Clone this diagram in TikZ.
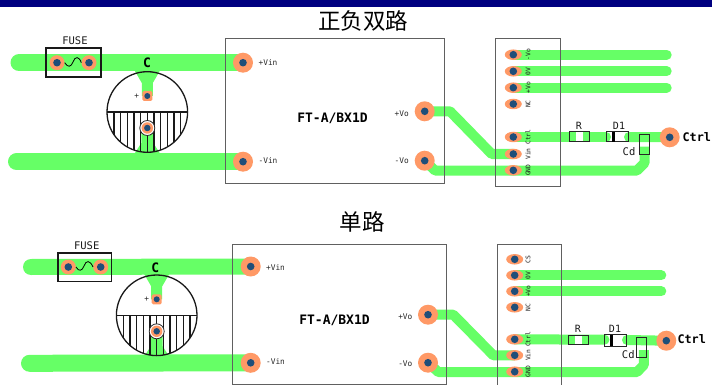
\documentclass[tikz,border=0pt]{standalone}
\usepackage{fontspec}
\setmonofont{DejaVu Sans Mono}
\newfontfamily\cjkfont{Noto Sans CJK SC}
\usetikzlibrary{backgrounds}
\usetikzlibrary{shapes.geometric}
\definecolor{navybar}{HTML}{000080}
\definecolor{tracegreen}{HTML}{66FF66}
\definecolor{padorange}{HTML}{FF9966}
\definecolor{holeblue}{HTML}{1F4E79}
\definecolor{boxgray}{HTML}{606060}
\tikzset{
  wide/.style={draw=tracegreen,line width=17pt,line cap=round},
  thin/.style={draw=tracegreen,line width=10pt,line cap=round,line join=round},
  bigpad/.style={circle,fill=padorange,inner sep=0pt,minimum size=20pt},
  midpad/.style={circle,fill=padorange,inner sep=0pt,minimum size=15pt},
  ovalpad/.style={ellipse,fill=padorange,inner sep=0pt,minimum width=17pt,minimum height=10.5pt},
  sqpad/.style={rectangle,rounded corners=1.5pt,fill=padorange,inner sep=0pt,minimum size=10pt},
  ringpad/.style={circle,fill=padorange,inner sep=0pt,minimum size=11.5pt},
  hole/.style={circle,fill=holeblue,inner sep=0pt,minimum size=7.6pt},
  part/.style={draw=black!85,line width=.9pt},
  heavy/.style={draw=black!90,line width=1.3pt},
  block/.style={draw=boxgray,line width=.8pt},
  lbl/.style={font=\ttfamily\fontsize{10.5pt}{12pt}\selectfont,inner sep=0pt,text=black!90},
  pinlbl/.style={font=\ttfamily\fontsize{7.8pt}{9pt}\selectfont,inner sep=0pt,text=black!85},
  conlbl/.style={font=\ttfamily\fontsize{6.3pt}{7pt}\selectfont,inner sep=0pt,rotate=90,text=black!90},
  bigname/.style={font=\ttfamily\bfseries\fontsize{13pt}{14pt}\selectfont,inner sep=0pt},
  ctrlname/.style={font=\ttfamily\bfseries\fontsize{11.8pt}{14pt}\selectfont,inner sep=0pt},
  title/.style={font=\cjkfont\fontsize{22.5pt}{24pt}\selectfont,inner sep=0pt},
}
% pad with its hole: name, style, position
\newcommand{\padat}[3]{\node[#2] (#1) at (#3) {}; \node[hole] (#1h) at (#1) {};}
% capacitor body around the current origin
\newcommand{\capbody}{
  \fill[tracegreen] (-13,-42) -- (13,-42) -- (5.5,-29) -- (5.5,-16) -- (-5.5,-16) -- (-5.5,-29) -- cycle;
  \fill[tracegreen] (-6,16) -- (6,16) -- (6,31) -- (13,42) -- (-13,42) -- (-6,31) -- cycle;
  \draw[heavy] (0,0) circle (40.3);
  \draw[heavy] (-40.3,0) -- (40.3,0);
  \foreach \i in {-5,...,5}
    \draw[heavy] ({\i*6.67},0) -- ({\i*6.67},{sqrt(40.3*40.3-\i*6.67*\i*6.67)});
}
\begin{document}
\begin{tikzpicture}[x=1pt,y=-1pt]
  \useasboundingbox (0,0) rectangle (712,385);
  \fill[navybar] (0,0) rectangle (712,7);
  \node[title] (titletop) at (363,21) {正负双路};
  \node[title] (titlelow) at (362,222) {单路};
  % upper circuit
  \coordinate (ainfree) at (19,62.7);
  \coordinate (agndfree) at (16.5,161.7);
  \padat{afa}{midpad}{57,62.7}
  \padat{afb}{midpad}{89,62.7}
  \padat{avinp}{bigpad}{243,62.7}
  \padat{avinm}{bigpad}{243,161.7}
  \padat{avop}{bigpad}{424.7,111.3}
  \padat{avom}{bigpad}{424.7,160.7}
  \padat{actrlout}{bigpad}{669.7,137.3}
  \padat{apa}{ovalpad}{513.3,54.7}
  \padat{apb}{ovalpad}{513.3,71.3}
  \padat{apc}{ovalpad}{513.3,87.7}
  \padat{apd}{ovalpad}{513.3,104}
  \padat{ape}{ovalpad}{513.3,137}
  \padat{apf}{ovalpad}{513.3,154}
  \padat{apg}{ovalpad}{513.3,170.3}
  \begin{scope}[on background layer]
    \draw[wide] (ainfree) -- (avinp.center);
    \draw[wide] (agndfree) -- (avinm.center);
    \draw[thin] (apa.center) -- (666.7,54.7);
    \draw[thin] (apb.center) -- (666.7,71.3);
    \draw[thin] (apc.center) -- (666.7,87.7);
    \draw[thin,line cap=butt] (avop.center) -- (450,111.3) -- (491.7,154) -- (apf.center);
    \draw[thin,line cap=butt] (avom.center) -- (435,170.5) -- (637,170.5) -- (644.5,163) -- (644.5,146.7);
    \draw[thin] (ape.center) -- (606,137);
    \draw[thin] (629,137) -- (actrlout.center);
  \end{scope}
  % fuse
  \draw[heavy,line width=1.6pt] (45.7,48) rectangle (100.7,77);
  \draw[line width=.8pt] (afa.east) .. controls (68,68) and (71,67) .. (73,62) .. controls (75,56) and (79,56) .. (afb.west);
  \node[lbl] (afuse) at (75,41) {FUSE};
  % capacitor
  \begin{scope}[shift={(147.3,112)}]
    \capbody
    \node[sqpad] (acp) at (0,-16) {};
    \node[hole,minimum size=6pt] (acph) at (acp) {};
    \node[pinlbl] (aplus) at (-10.5,-16) {+};
    \node[circle,draw=black!85,fill=white,line width=.8pt,minimum size=15pt,inner sep=0pt] (acring) at (0,16) {};
    \node[ringpad] (acm) at (acring) {};
    \node[hole,minimum size=6.5pt] (acmh) at (acm) {};
  \end{scope}
  \node[bigname] (acname) at (147,62.5) {C};
  % module
  \draw[block] (225,38.5) rectangle (444.3,183.7);
  \node[pinlbl] (alvinp) at (268,63) {+Vin};
  \node[pinlbl] (alvinm) at (268,161) {-Vin};
  \node[pinlbl] (alvop) at (401.7,114) {+Vo};
  \node[pinlbl] (alvom) at (401.7,161) {-Vo};
  \node[bigname] (amodel) at (332.5,118) {FT-A/BX1D};
  % connector
  \draw[block] (495,38.3) rectangle (560.3,186);
  \node[conlbl] (ala) at (528,54.7) {-Vo};
  \node[conlbl] (alb) at (528,71.3) {0V};
  \node[conlbl] (alc) at (528,87.7) {+Vo};
  \node[conlbl] (ald) at (528,104) {NC};
  \node[conlbl] (ale) at (528,137) {Ctrl};
  \node[conlbl] (alf) at (528,154) {Vin};
  \node[conlbl] (alg) at (528,170.3) {GND};
  % parts on the control line
  \draw[part,fill=tracegreen] (569,131.7) rectangle (589.7,141.7);
  \fill[white] (576,132.2) rectangle (582.5,141.2);
  \node[lbl,font=\ttfamily\fontsize{10pt}{12pt}\selectfont] (arname) at (579,126) {R};
  \draw[part] (606.7,131.7) rectangle (628.3,141.7);
  \fill[black] (612,131.7) rectangle (614.5,141.7);
  \node[lbl,font=\ttfamily\fontsize{10pt}{12pt}\selectfont] (adname) at (619,126) {D1};
  \draw[part] (639.7,134.3) rectangle (649.3,154.3);
  \node[lbl] (acd) at (629,152) {Cd};
  \node[ctrlname] (actrl) at (696.8,137) {Ctrl};
  % lower circuit
  \coordinate (binfree) at (31,267);
  \coordinate (bgndfree) at (29.5,363.3);
  \padat{bfa}{midpad}{68.3,267}
  \padat{bfb}{midpad}{100.7,267}
  \padat{bvinp}{bigpad}{250.7,266.5}
  \padat{bvinm}{bigpad}{250.7,362.8}
  \padat{bvop}{bigpad}{428,314.7}
  \padat{bvom}{bigpad}{428,362.7}
  \padat{bctrlout}{bigpad}{666.3,340.7}
  \padat{bpa}{ovalpad}{514.7,259.3}
  \padat{bpb}{ovalpad}{514.7,275.3}
  \padat{bpc}{ovalpad}{514.7,291.3}
  \padat{bpd}{ovalpad}{514.7,307.3}
  \padat{bpe}{ovalpad}{514.7,339.3}
  \padat{bpf}{ovalpad}{514.7,355.3}
  \padat{bpg}{ovalpad}{514.7,371.7}
  \begin{scope}[on background layer]
    \draw[wide,line width=16pt] (binfree) -- (bvinp.center);
    \draw[wide] (bgndfree) -- (bvinm.center);
    \draw[thin] (bpb.center) -- (661.3,275.3);
    \draw[thin] (bpc.center) -- (661.3,291.3);
    \draw[thin,line cap=butt] (bvop.center) -- (453.3,314.7) -- (493.3,355.3) -- (bpf.center);
    \draw[thin,line cap=butt] (bvom.center) -- (438.3,372) -- (637,372) -- (643.8,365) -- (643.8,350);
    \draw[thin] (bpe.center) -- (604.5,339.7);
    \draw[thin] (627,340) -- (bctrlout.center);
  \end{scope}
  % fuse
  \draw[heavy,line width=1.6pt] (58,252.7) rectangle (111.3,281.3);
  \draw[line width=.8pt] (bfa.east) .. controls (79,272) and (82,271) .. (84,266) .. controls (86,260) and (90,260) .. (bfb.west);
  \node[lbl] (bfuse) at (86.7,246) {FUSE};
  % capacitor
  \begin{scope}[shift={(156.7,315.3)}]
    \capbody
    \node[sqpad] (bcp) at (0,-16) {};
    \node[hole,minimum size=6pt] (bcph) at (bcp) {};
    \node[pinlbl] (bplus) at (-10,-16) {+};
    \node[circle,draw=black!85,fill=white,line width=.8pt,minimum size=15pt,inner sep=0pt] (bcring) at (0,16) {};
    \node[ringpad] (bcm) at (bcring) {};
    \node[hole,minimum size=6.5pt] (bcmh) at (bcm) {};
  \end{scope}
  \node[bigname] (bcname) at (155.3,268) {C};
  % module
  \draw[block] (232.7,244.3) rectangle (446.7,384.3);
  \node[pinlbl] (blvinp) at (275.5,267.5) {+Vin};
  \node[pinlbl] (blvinm) at (275.5,361.5) {-Vin};
  \node[pinlbl] (blvop) at (405.3,317) {+Vo};
  \node[pinlbl] (blvom) at (405.3,363.3) {-Vo};
  \node[bigname] (bmodel) at (334.5,320) {FT-A/BX1D};
  % connector, runs off the bottom
  \draw[block] (497,385) -- (497,244.3) -- (561.7,244.3) -- (561.7,385);
  \node[conlbl] (bla) at (528,259.3) {CS};
  \node[conlbl] (blb) at (528,275.3) {0V};
  \node[conlbl] (blc) at (528,291.3) {+Vo};
  \node[conlbl] (bld) at (528,307.3) {NC};
  \node[conlbl] (ble) at (528,339.3) {Ctrl};
  \node[conlbl] (blf) at (528,355.3) {Vin};
  \node[conlbl] (blg) at (528,371.7) {GND};
  % parts on the control line
  \draw[part,fill=tracegreen] (568,335.3) rectangle (588.7,344.3);
  \fill[white] (575,335.8) rectangle (581.5,343.8);
  \node[lbl,font=\ttfamily\fontsize{10pt}{12pt}\selectfont] (brname) at (578,329.3) {R};
  \draw[part] (604.7,334.7) rectangle (626,346);
  \fill[black] (610,334.7) rectangle (612.5,346);
  \node[lbl,font=\ttfamily\fontsize{10pt}{12pt}\selectfont] (bdname) at (615,329) {D1};
  \draw[part] (636.3,337.7) rectangle (646.3,357.7);
  \node[lbl] (bcd) at (628.3,354.3) {Cd};
  \node[ctrlname] (bctrl) at (691.7,339.3) {Ctrl};
\end{tikzpicture}
\end{document}
